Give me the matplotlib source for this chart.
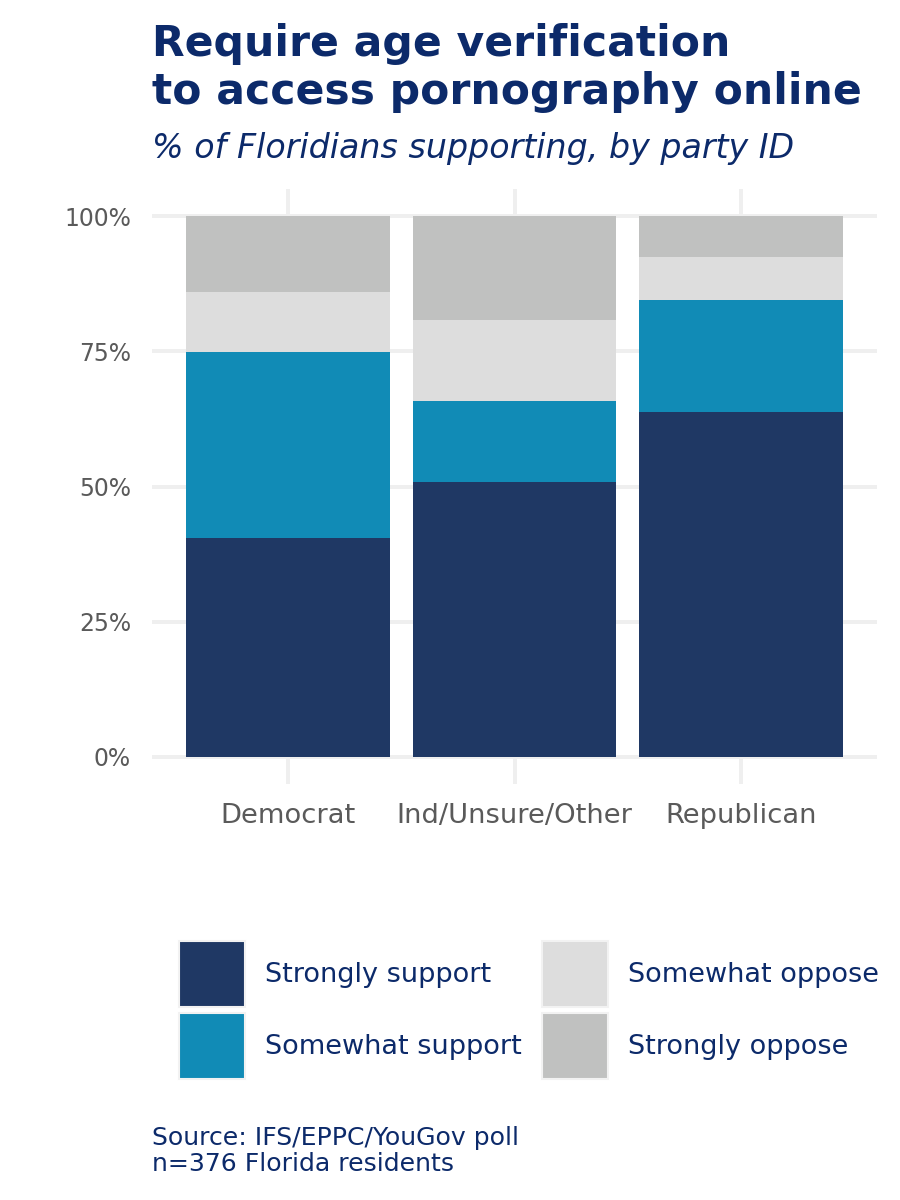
import matplotlib
matplotlib.use("Agg")
import matplotlib.pyplot as plt
from matplotlib.patches import Patch
import numpy as np

# data (% of respondents)
parties = ["Democrat", "Ind/Unsure/Other", "Republican"]
responses = ["Strongly support", "Somewhat support", "Somewhat oppose", "Strongly oppose"]
strongly_support = [40.5, 50.8, 63.8]
somewhat_support = [34.4, 15.0, 20.7]
somewhat_oppose = [11.1, 15.0, 7.9]
strongly_oppose = [14.0, 19.2, 7.6]
colors = ["#1f3864", "#118bb6", "#dddddd", "#c0c1c0"]
y_ticks = [0, 25, 50, 75, 100]

title_lines = ["Require age verification", "to access pornography online"]
subtitle = "% of Floridians supporting, by party ID"
source_lines = ["Source: IFS/EPPC/YouGov poll", "n=376 Florida residents"]

navy = "#0c2a6a"
grey_txt = "#5a5a5a"
grid_c = "#efefef"
plt.rcParams["font.family"] = ["DejaVu Sans"]

W, H = 900, 1200
fig = plt.figure(figsize=(W / 100, H / 100), dpi=100)
renderer = fig.canvas.get_renderer()


def fit_size(s, target_px, **kw):
    # font size (pt) that gives the string the width it has in the reference
    t = fig.text(0, 0, s, fontsize=10, **kw)
    w = t.get_window_extent(renderer).width
    t.remove()
    return 10 * target_px / w


px = 72 / 100  # points per pixel
title_fs = fit_size(title_lines[1], 710, fontweight="bold")
sub_fs = fit_size(subtitle, 640, fontstyle="italic")
ytick_fs = fit_size("100%", 67)
xtick_fs = fit_size("Ind/Unsure/Other", 235)
leg_fs = fit_size("Somewhat support", 256)
src_fs = fit_size(source_lines[0], 366)

ax = fig.add_axes([152 / W, 1 - 784 / H, 725 / W, 595 / H])

x = np.arange(1, len(parties) + 1)
bottom = np.zeros(len(parties))
series = [strongly_support, somewhat_support, somewhat_oppose, strongly_oppose]
for vals, col, lab in zip(series, colors, responses):
    ax.bar(x, vals, width=0.9, bottom=bottom, color=col, label=lab, zorder=3)
    bottom += np.array(vals)

ax.set_xlim(0.4, 3.6)
ax.set_ylim(-5, 105)
ax.set_yticks(y_ticks)
ax.set_yticklabels([f"{t}%" for t in y_ticks])
ax.set_xticks(x)
ax.set_xticklabels(parties)
ax.grid(True, color=grid_c, linewidth=2.8, zorder=0)
ax.tick_params(length=0, labelcolor=grey_txt)
ax.tick_params(axis="y", labelsize=ytick_fs, pad=21 * px)
ax.tick_params(axis="x", labelsize=xtick_fs, pad=19 * px)
for s in ax.spines.values():
    s.set_visible(False)

fig.text(152 / W, 1 - 56 / H, title_lines[0], fontsize=title_fs,
         fontweight="bold", color=navy, va="baseline", ha="left")
fig.text(152 / W, 1 - 104 / H, title_lines[1], fontsize=title_fs,
         fontweight="bold", color=navy, va="baseline", ha="left")
fig.text(152 / W, 1 - 158 / H, subtitle, fontsize=sub_fs,
         fontstyle="italic", color=navy, va="baseline", ha="left")

# legend: 66 px keys, 6 px between rows, 20 px gaps
fs_pt = leg_fs
key_pt = 66 * px
handles = [Patch(facecolor=c, edgecolor="#f2f2f2", linewidth=1.5, label=l)
           for c, l in zip(colors, responses)]
leg = fig.legend(handles=handles, ncol=2, loc="upper left",
                 bbox_to_anchor=(179 / W, 1 - 941 / H), frameon=False,
                 fontsize=leg_fs, handlelength=key_pt / fs_pt,
                 handleheight=(key_pt / fs_pt - 0.245) / 0.65,
                 labelspacing=6 * px / fs_pt, handletextpad=20 * px / fs_pt,
                 columnspacing=20 * px / fs_pt, borderaxespad=0, borderpad=0)
for t in leg.get_texts():
    t.set_color(navy)

fig.text(152 / W, 1 - 1145 / H, source_lines[0], fontsize=src_fs,
         color=navy, va="baseline", ha="left")
fig.text(152 / W, 1 - 1171 / H, source_lines[1], fontsize=src_fs,
         color=navy, va="baseline", ha="left")

fig.savefig("out.png", dpi=100, facecolor="white")
